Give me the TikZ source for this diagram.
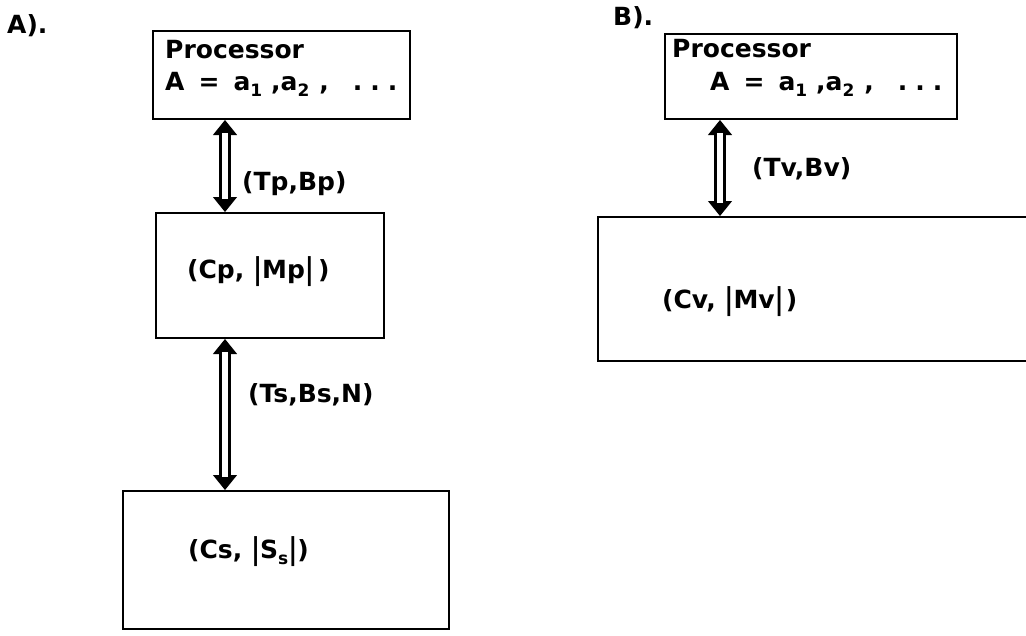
\documentclass[tikz,border=0pt]{standalone}
\usepackage{fontspec}
\newfontfamily\lblfont{DejaVu Sans}
\usetikzlibrary{arrows.meta}
\newcommand\lowidx[1]{\raisebox{-6pt}{\fontsize{17}{17}\selectfont #1}}
\newcommand\tallbar{\raisebox{-1pt}{\scalebox{1}[1.2]{|}}}
\newcommand\threedots{.\hspace{8pt}.\hspace{8pt}.}
\newcommand\aseq{A\hspace{14pt}=\hspace{14pt}a\lowidx{1}\hspace{9pt},a\lowidx{2}\hspace{10pt},\hspace{24pt}\threedots}
\begin{document}
\begin{tikzpicture}[x=1pt,y=-1pt,
  box/.style={draw, line width=2pt, rectangle, inner sep=0pt, anchor=north west},
  txt/.style={inner sep=0pt, anchor=base west, font=\lblfont\bfseries\fontsize{25}{30}\selectfont},
  tipline/.style={line width=1pt, {Triangle[width=24pt,length=15pt]}-{Triangle[width=24pt,length=15pt]}},
  shaft/.style={double, line width=3pt, double distance=5.5pt, shorten <=13pt, shorten >=13pt}]
\clip (0,0) rectangle (1026,635);
\fill[white] (0,0) rectangle (1026,635);
% ---- A ----
\node[txt] (la) at (7,33) {A).};
\node[box, minimum width=257pt, minimum height=88pt] (pa) at (152,30) {};
\node[txt] (pa1) at (165,58) {Processor};
\node[txt] (pa2) at (165,90) {\aseq};
\node[box, minimum width=228pt, minimum height=125pt] (cp) at (155,212) {};
\node[txt] (cpt) at (187,278) {(Cp, \tallbar Mp\tallbar\hspace{4pt})};
\node[box, minimum width=326pt, minimum height=138pt] (cs) at (122,490) {};
\node[txt] (cst) at (188,558) {(Cs, \tallbar S\lowidx{s}\tallbar)};
\coordinate (ax1) at (225,0);
\draw[tipline] (ax1 |- pa.south) -- (ax1 |- cp.north);
\draw[shaft] (ax1 |- pa.south) -- (ax1 |- cp.north);
\draw[tipline] (ax1 |- cp.south) -- (ax1 |- cs.north);
\draw[shaft] (ax1 |- cp.south) -- (ax1 |- cs.north);
\node[txt] (tp) at (242,190) {(Tp,Bp)};
\node[txt] (ts) at (248,402) {(Ts,Bs,N)};
% ---- B ----
\node[txt] (lb) at (613,25) {B).};
\node[box, minimum width=292pt, minimum height=85pt] (pb) at (664,33) {};
\node[txt] (pb1) at (672,57) {Processor};
\node[txt] (pb2) at (710,90) {\aseq};
\node[box, minimum width=460pt, minimum height=144pt] (cv) at (597,216) {};
\node[txt] (cvt) at (662,308) {(Cv, \tallbar Mv\tallbar\hspace{2pt})};
\coordinate (ax2) at (720,0);
\draw[tipline] (ax2 |- pb.south) -- (ax2 |- cv.north);
\draw[shaft] (ax2 |- pb.south) -- (ax2 |- cv.north);
\node[txt] (tv) at (752,176) {(Tv,Bv)};
\end{tikzpicture}
\end{document}
